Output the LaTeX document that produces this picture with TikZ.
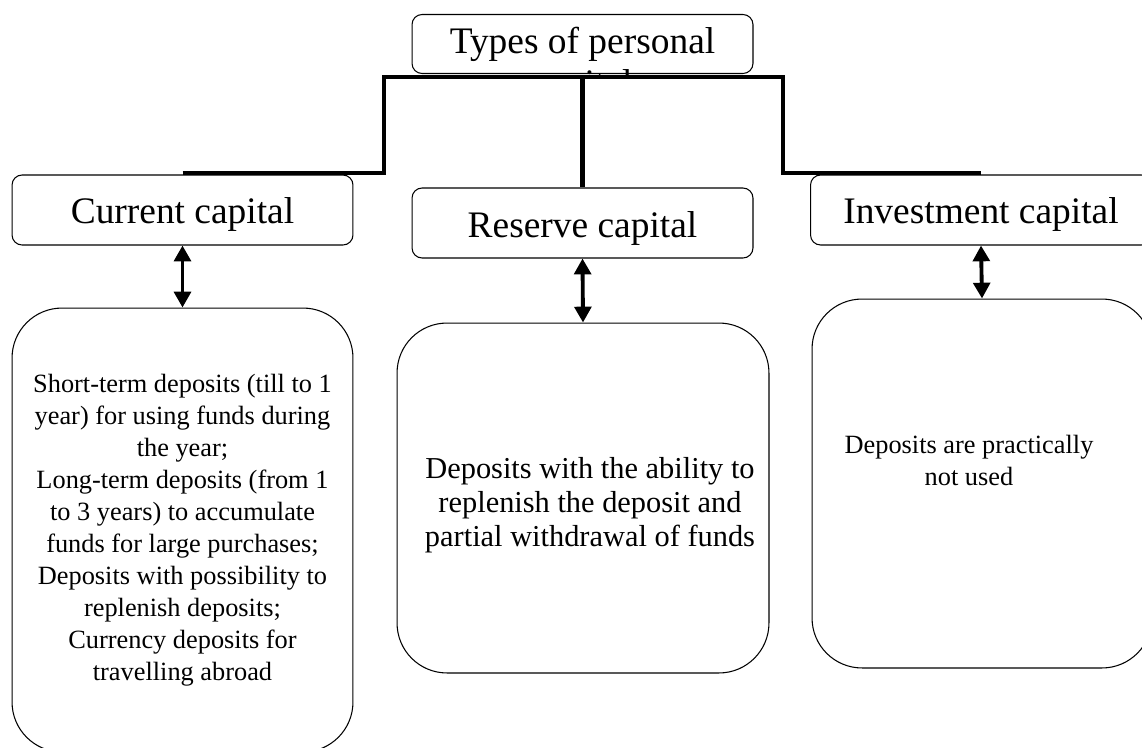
\documentclass[tikz,border=0pt]{standalone}
\usepackage{fontspec}
\setmainfont{Liberation Serif}
\usetikzlibrary{arrows.meta}
\begin{document}
\begin{tikzpicture}[x=0.02cm, y=-0.02cm,
    capbox/.style={draw, line width=0.6pt, rounded corners=0.2cm, minimum width=6.82cm, minimum height=1.4cm},
    captext/.style={anchor=base, inner sep=0pt, font=\fontsize{21.3}{24}\selectfont},
    descbox/.style={draw, line width=0.6pt, rounded corners=1cm},
    desctext/.style={align=center, inner sep=0pt, font=\fontsize{15}{18.2}\selectfont},
    bracket/.style={line width=2.3pt},
    twoway/.style={line width=2.2pt, {Triangle[width=9.5pt,length=9pt]}-{Triangle[width=9.5pt,length=9pt]}}]
    \useasboundingbox (0,0) rectangle (1142,747);
    \node[capbox, minimum height=1.18cm] (tpc) at (582.5,44) {};
    \begin{scope}
        \clip (412,14) rectangle (753,76);
        \node[anchor=north, inner sep=0pt, align=center, font=\fontsize{21.3}{24}\selectfont] (tpctext) at (582.5,27) {Types of personal\\capital};
    \end{scope}
    \node[capbox] (cur) at (182.5,210) {};
    \node[capbox] (res) at (582.5,223) {};
    \node[capbox] (inv) at (981,210) {};
    \node[captext] (curtext) at (182.5,223) {Current capital};
    \node[captext] (restext) at (582.5,237) {Reserve capital};
    \node[captext] (invtext) at (981,223) {Investment capital};
    \node[descbox, minimum width=6.82cm, minimum height=8.88cm] (curdesc) at (182.5,530) {};
    \node[descbox, minimum width=7.44cm, minimum height=7cm] (resdesc) at (583,498) {};
    \node[descbox, minimum width=6.8cm, minimum height=7.38cm] (invdesc) at (982,483.5) {};
    \node[desctext] (curnote) at (182.5,530) {Short-term deposits (till to 1\\year) for using funds during\\the year;\\Long-term deposits (from 1\\to 3 years) to accumulate\\funds for large purchases;\\Deposits with possibility to\\replenish deposits;\\Currency deposits for\\travelling abroad};
    \node[desctext, font=\fontsize{17.3}{19.5}\selectfont] (resnote) at (590,505) {Deposits with the ability to\\replenish the deposit and\\partial withdrawal of funds};
    \node[desctext] (invnote) at (969,460) {Deposits are practically\\not used};
    \coordinate (hub) at (582.5,77);
    \draw[bracket] (cur.north |- 0,173) -- (384,173) -- (384,77) -- (783,77) -- (783,173) -- (inv.north |- 0,173);
    \draw[bracket] (hub) -- (res.north);
    \draw[twoway] (cur.south) -- (curdesc.north);
    \draw[twoway] (res.south) -- (resdesc.north);
    \draw[twoway] (inv.south) -- (invdesc.north);
\end{tikzpicture}
\end{document}
